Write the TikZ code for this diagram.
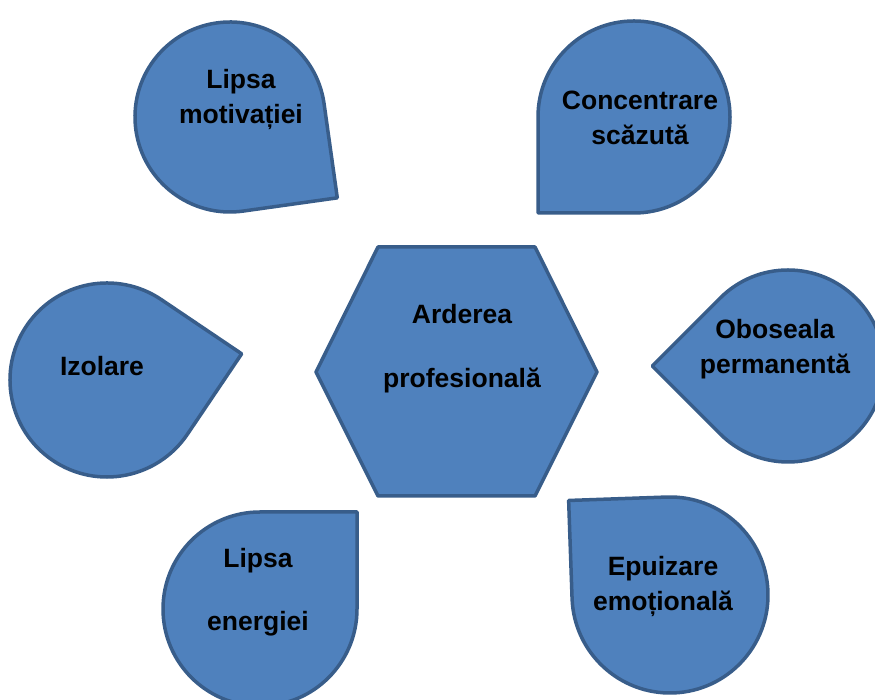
\documentclass[tikz,border=0pt]{standalone}
\usepackage{fontspec}
\setmainfont{Liberation Sans}
\usepackage{tikz}
\usetikzlibrary{calc}
\usepackage{xcolor}
\definecolor{dropfill}{RGB}{79,129,189}
\definecolor{dropedge}{RGB}{56,93,138}

\begin{document}
\begin{tikzpicture}[x=1pt,y=1pt,font=\bfseries\fontsize{26.5}{35}\selectfont]

% canvas
\useasboundingbox (0,0) rectangle (875,700);
\fill[white] (0,0) rectangle (875,700);
\clip (0,0) rectangle (875,700);

\tikzset{
  tear/.style={
    draw=dropedge,
    fill=dropfill,
    line width=3.5pt,
    line join=round
  },
  label/.style={
    text=black,
    align=center,
    inner sep=0pt
  }
}

% teardrops — centre x/y, angle of the pointed corner, radius
\foreach \cx/\cy/\a/\r in {230/583/-37/95, 634/583/225/96, 107/320/11/97,
                           788/334/180/96, 260/91/45/97, 670/105/137/98}{
  \draw[tear]
    ($(\cx,\cy)+(\a:{1.41421*\r pt})$) --
    ($(\cx,\cy)+(\a+45:\r pt)$)
    arc[start angle=\a+45, delta angle=270, radius=\r pt] -- cycle;
}

% centre hexagon
\draw[tear] (316,328) -- (378,453) -- (535,453) -- (597,328)
  -- (535,204) -- (378,204) -- cycle;

% texts
\node[label] (arderea) at (462,351) {Arderea\\[29pt]profesională};
\node[label] (motiv)   at (241,601) {Lipsa\\motivației};
\node[label] (concen)  at (640,582) {Concentrare\\scăzută};
\node[label] (izolare) at (102,334) {Izolare};
\node[label] (obosea)  at (775,351) {Oboseala\\permanentă};
\node[label] (energ)   at (258,108) {Lipsa\\[28pt]energiei};
\node[label] (epuiz)   at (663,114) {Epuizare\\emoțională};

\end{tikzpicture}
\end{document}
